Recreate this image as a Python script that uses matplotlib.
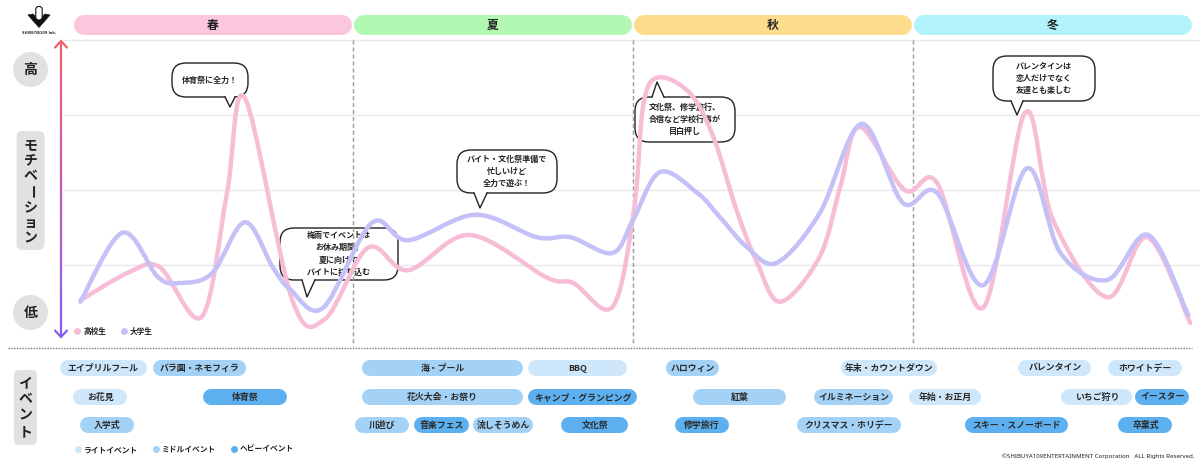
import numpy as np
import matplotlib
matplotlib.use('Agg')
import matplotlib.pyplot as plt
from matplotlib.patches import FancyBboxPatch, Polygon, Circle, PathPatch
from matplotlib.path import Path
from matplotlib.collections import LineCollection
from matplotlib.colors import LinearSegmentedColormap
import matplotlib.transforms as mtransforms
from matplotlib.lines import Line2D

plt.rcParams['font.family'] = ['Noto Sans CJK JP', 'DejaVu Sans']

# ---------------- data ----------------
seasons = ['春', '夏', '秋', '冬']
season_start = [0, 3, 6, 9]
season_end = [3, 6, 9, 12]

hs_month = [0.08, 0.61, 0.93, 1.38, 1.65, 1.84, 2.35, 2.70, 3.16, 3.59, 4.25, 5.08, 5.36,
            5.78, 6.01, 6.11, 6.27, 6.61, 6.86, 7.11, 7.33, 7.58, 8.00, 8.22, 8.43, 8.91, 9.26,
            9.75, 10.20, 10.50, 11.08, 11.51, 11.97]
hs_value = [0.53, 0.91, 0.97, 0.31, 1.96, 3.23, 0.53, 0.28, 1.23, 0.93, 1.40, 0.83, 0.76,
            0.44, 1.73, 3.13, 3.50, 3.29, 2.71, 1.73, 1.03, 0.51, 1.11, 2.04, 2.84, 2.00, 2.09,
            0.43, 3.03, 1.60, 0.57, 1.37, 0.23]

uni_month = [0.08, 0.53, 0.91, 1.15, 1.49, 1.84, 2.14, 2.33, 2.68, 3.20, 3.59, 4.31, 4.97, 5.33,
             5.78, 6.00, 6.29, 6.69, 6.93, 7.22, 7.54, 8.00, 8.45, 8.89, 9.26, 9.75, 10.22,
             10.58, 11.08, 11.52, 11.95]
uni_value = [0.51, 1.43, 0.84, 0.76, 0.89, 1.57, 0.97, 0.67, 0.43, 1.56, 1.33, 1.67, 1.37, 1.37,
             1.16, 1.60, 2.24, 1.96, 1.64, 1.24, 1.03, 1.69, 2.88, 1.83, 1.96, 0.73, 2.29,
             1.16, 0.80, 1.40, 0.33]

series_names = ['高校生', '大学生']

event_names = ['エイプリルフール', 'バラ園・ネモフィラ', '海・プール', 'BBQ', 'ハロウィン',
               '年末・カウントダウン', 'バレンタイン', 'ホワイトデー',
               'お花見', '体育祭', '花火大会・お祭り', 'キャンプ・グランピング', '紅葉',
               'イルミネーション', '年始・お正月', 'いちご狩り', 'イースター',
               '入学式', '川遊び', '音楽フェス', '流しそうめん', '文化祭', '修学旅行',
               'クリスマス・ホリデー', 'スキー・スノーボード', '卒業式']
event_row = [0] * 8 + [1] * 9 + [2] * 9
event_start = [-0.14, 0.86, 3.10, 4.88, 6.35, 8.23, 10.13, 11.09,
               0.00, 1.39, 3.10, 4.88, 6.64, 7.94, 8.96, 10.59, 11.38,
               0.08, 3.02, 3.65, 4.29, 5.23, 6.45, 7.76, 9.56, 11.20]
event_end = [0.79, 1.85, 4.82, 5.94, 6.92, 9.26, 10.91, 11.88,
             0.58, 2.29, 4.82, 6.04, 7.64, 8.79, 9.73, 11.35, 11.96,
             0.65, 3.60, 4.24, 4.93, 5.95, 7.03, 8.87, 10.66, 11.78]
# 0 = light, 1 = middle, 2 = heavy
event_level = [0, 1, 1, 0, 1, 0, 0, 0,
               0, 2, 1, 2, 1, 1, 0, 0, 2,
               1, 1, 2, 1, 2, 2, 1, 2, 2]
level_names = ['ライトイベント', 'ミドルイベント', 'ヘビーイベント']

comments = ['体育祭に全力！',
            '梅雨でイベントは\nお休み期間。\n夏に向けて\nバイトに打ち込む',
            'バイト・文化祭準備で\n忙しいけど\n全力で遊ぶ！',
            '文化祭、修学旅行、\n合宿など学校行事が\n目白押し',
            'バレンタインは\n恋人だけでなく\n友達とも楽しむ']

# ---------------- styles ----------------
W, H, DPI = 1200, 462, 100
season_colors = ['#fcc6dc', '#b2f7b2', '#fddc8e', '#b2f3fb']
level_colors = ['#cfe7fb', '#a3d2f6', '#5cb0f0']
hs_color = '#f8bdd6'
uni_color = '#c3c1f7'
txt = '#222222'
gray_box = '#e1e1e1'

fig = plt.figure(figsize=(W / DPI, H / DPI), dpi=DPI)
ov = fig.add_axes([0, 0, 1, 1])
ov.set_xlim(0, W)
ov.set_ylim(H, 0)
ov.axis('off')
ov.set_zorder(0)

ax = fig.add_axes([73 / W, 1 - 340 / H, 1120 / W, 300 / H])
ax.set_xlim(0, 12)
ax.set_ylim(0, 4)
ax.axis('off')
ax.patch.set_alpha(0)
ax.set_zorder(1)

T_px = ov.transData
T_mx = mtransforms.blended_transform_factory(ax.transData, ov.transData)
px_per_month = 1120 / 12


def pill(x0, x1, ypx, hpx, color, z):
    inset = (hpx / 2) / px_per_month
    ax.plot([x0 + inset, x1 - inset], [ypx, ypx], transform=T_mx,
            lw=hpx * 72 / DPI, color=color, solid_capstyle='round',
            clip_on=False, zorder=z)


# ---------- logo ----------
ov.add_patch(Polygon([(28, 15), (33, 14), (39, 19.5), (45, 14), (50, 15), (39, 27.5)],
                     closed=True, fc='#111111', ec='#111111', lw=0.5))
ov.add_patch(FancyBboxPatch((35.8, 6.5), 6.4, 13.5, boxstyle='round,pad=0,rounding_size=2.8',
                            fc='white', ec='#111111', lw=0.8))
ov.text(39, 33, 'SHIBUYA109 lab.', fontsize=2.6, ha='center', va='center',
        color='#333333', family=['DejaVu Sans'], fontweight='bold')

# ---------- season bands ----------
for name, s, e, c in zip(seasons, season_start, season_end, season_colors):
    pill(s + 1 / px_per_month, e - 1 / px_per_month, 25, 20, c, 2)
    ax.text((s + e) / 2, 25.5, name, transform=T_mx, ha='center', va='center',
            fontsize=8.5, fontweight='bold', color=txt, zorder=3, clip_on=False)

# ---------- grid & dividers ----------
ax.hlines([1, 2, 3, 4], -0.11, 12.07, colors='#e9e9e9', lw=1.0, zorder=1, clip_on=False)
for s in season_start[1:]:
    ax.plot([s, s], [40, 346], transform=T_mx, color='#9a9a9a', lw=1.0,
            ls=(0, (3, 2)), zorder=4, clip_on=False)

# ---------- speech bubbles ----------
bubbles = [
    # x0, y0, x1, y1, tail base x0, base x1, base y, tip x, tip y
    (172, 63, 248, 97, 225, 235, 97, 230, 107),
    (280, 228, 398, 280, 302, 315, 280, 307, 297),
    (457, 150, 557, 193, 474, 487, 193, 480, 208),
    (635, 97, 735, 142, 652, 664, 97, 657, 82),
    (993, 56, 1095, 101, 1011, 1023, 101, 1017, 115),
]
for (x0, y0, x1, y1, bx0, bx1, by, tx, ty), ctext in zip(bubbles, comments):
    r = min(14, (y1 - y0) / 2)
    ax.add_patch(FancyBboxPatch((x0, y0), x1 - x0, y1 - y0,
                                boxstyle=f'round,pad=0,rounding_size={r}',
                                fc='white', ec='#222222', lw=1.0, transform=T_px,
                                clip_on=False, zorder=2))
    inside = 1.5 if by == y1 else -1.5
    ax.add_patch(Polygon([(bx0, by - inside), (tx, ty), (bx1, by - inside)], closed=True,
                         fc='white', ec='none', transform=T_px, clip_on=False, zorder=2.1))
    ax.add_line(Line2D([bx0, tx, bx1], [by, ty, by], color='#222222', lw=1.0,
                       transform=T_px, clip_on=False, zorder=2.2))
    ax.text((x0 + x1) / 2, (y0 + y1) / 2, ctext, transform=T_px, ha='center', va='center',
            fontsize=5.8, fontweight='bold', color=txt, linespacing=1.45, zorder=2.3,
            clip_on=False)


# ---------- curves ----------
def smooth_path(xs, ys):
    P = np.column_stack([xs, ys])
    Pe = np.vstack([P[0], P, P[-1]])
    verts = [P[0]]
    codes = [Path.MOVETO]
    for i in range(len(P) - 1):
        p0, p1, p2, p3 = Pe[i], Pe[i + 1], Pe[i + 2], Pe[i + 3]
        c1 = p1 + (p2 - p0) / 6.0
        c2 = p2 - (p3 - p1) / 6.0
        verts += [c1, c2, p2]
        codes += [Path.CURVE4] * 3
    return Path(verts, codes)


ax.add_patch(PathPatch(smooth_path(hs_month, hs_value), fc='none', ec=hs_color, lw=3.2,
                       capstyle='round', joinstyle='round', zorder=5, clip_on=False))
ax.add_patch(PathPatch(smooth_path(uni_month, uni_value), fc='none', ec=uni_color, lw=3.2,
                       capstyle='round', joinstyle='round', zorder=5.5, clip_on=False))

# chart legend
for xd, xt, c, n in [(77, 83, hs_color, series_names[0]), (124, 130, uni_color, series_names[1])]:
    ov.plot([xd], [331], 'o', ms=5, color=c, mec='none')
    ov.text(xt, 331, n, fontsize=5.5, fontweight='bold', color=txt, va='center', ha='left')

# ---------- left axis ----------
cmap = LinearSegmentedColormap.from_list('mot', ['#f25f6a', '#c25bb5', '#8a5cf2'])
ys = np.linspace(42, 336, 120)
segs = [[(61, ys[i]), (61, ys[i + 1])] for i in range(len(ys) - 1)]
lc = LineCollection(segs, cmap=cmap, linewidths=1.6, capstyle='butt')
lc.set_array(np.linspace(0, 1, len(segs)))
ov.add_collection(lc)
ov.plot([55, 61, 67], [47.5, 41, 47.5], color='#f25f6a', lw=1.6, solid_capstyle='round',
        solid_joinstyle='miter')
ov.plot([55, 61, 67], [330.5, 337, 330.5], color='#8a5cf2', lw=1.6, solid_capstyle='round',
        solid_joinstyle='miter')

ov.add_patch(Circle((30.5, 69.5), 17.5, fc=gray_box, ec='none'))
ov.text(30.5, 70, '高', fontsize=10, fontweight='bold', ha='center', va='center', color=txt)
ov.add_patch(Circle((30.5, 312.5), 17.5, fc=gray_box, ec='none'))
ov.text(30.5, 313, '低', fontsize=10, fontweight='bold', ha='center', va='center', color=txt)

ov.add_patch(FancyBboxPatch((16.5, 131), 28, 119, boxstyle='round,pad=0,rounding_size=6',
                            fc=gray_box, ec='none'))
mot = 'モチベーション'
mot_y = np.linspace(145, 238, len(mot))
for ch, yy in zip(mot, mot_y):
    rot = -90 if ch == 'ー' else 0
    ov.text(30.5, yy, ch, fontsize=10, fontweight='bold', ha='center', va='center',
            color=txt, rotation=rot)

# ---------- separator ----------
ov.plot([8, 1192], [348, 348], color='#777777', lw=1.0, ls=(0, (1, 1)))

# ---------- events ----------
ov.add_patch(FancyBboxPatch((14, 370), 23, 75, boxstyle='round,pad=0,rounding_size=5',
                            fc=gray_box, ec='none'))
ev_label = 'イベント'
for ch, yy in zip(ev_label, np.linspace(383, 432, len(ev_label))):
    ov.text(25.5, yy, ch, fontsize=10, fontweight='bold', ha='center', va='center', color=txt)

row_y = [368, 397, 425]
for name, r, s, e, lv in zip(event_names, event_row, event_start, event_end, event_level):
    pill(s, e, row_y[r], 16, level_colors[lv], 2)
    ax.text((s + e) / 2, row_y[r] + 0.3, name, transform=T_mx, ha='center', va='center',
            fontsize=6.4, fontweight='bold', color='#2a2a2a', zorder=3, clip_on=False)

for xd, lv in zip([78, 156, 234], range(3)):
    ov.plot([xd], [449], 'o', ms=5, color=level_colors[lv], mec='none')
    ov.text(xd + 6, 449.5, level_names[lv], fontsize=5.6, fontweight='bold', color=txt,
            va='center', ha='left')

ov.text(1195, 456, '©SHIBUYA109ENTERTAINMENT Corporation   ALL Rights Reserved.',
        fontsize=4.4, fontweight='bold', ha='right', va='center', color=txt,
        family=['Noto Sans', 'DejaVu Sans'])

fig.savefig('out.png', dpi=DPI)
